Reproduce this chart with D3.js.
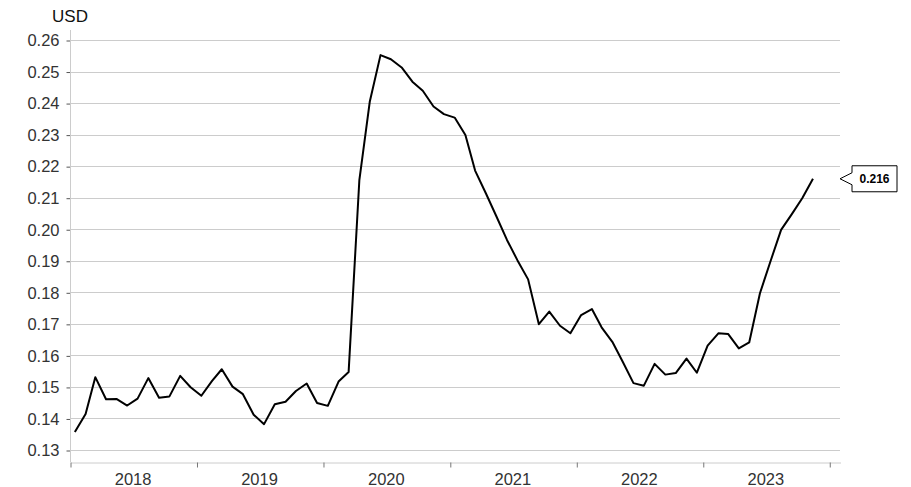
<!DOCTYPE html>
<html>
<head>
<meta charset="utf-8">
<script src="https://cdn.jsdelivr.net/npm/d3@7"></script>
<style>
  html, body { margin: 0; padding: 0; background: #fff; }
  svg { display: block; font-family: "Liberation Sans", Arial, sans-serif; }
</style>
</head>
<body>
<svg id="chart" width="911" height="487"></svg>
<script>
// Monthly average price (USD), January 2018 – November 2023
const years = [2018, 2019, 2020, 2021, 2022, 2023];
const values2018 = [0.1357, 0.1414, 0.1531, 0.1461, 0.1462, 0.1441, 0.1463, 0.1528, 0.1466, 0.1470, 0.1535, 0.1499];
const values2019 = [0.1472, 0.1519, 0.1556, 0.1501, 0.1477, 0.1412, 0.1382, 0.1445, 0.1453, 0.1487, 0.1511, 0.1449];
const values2020 = [0.1440, 0.1517, 0.1547, 0.2156, 0.2404, 0.2552, 0.2539, 0.2513, 0.2468, 0.2439, 0.2389, 0.2365];
const values2021 = [0.2354, 0.2299, 0.2186, 0.2114, 0.2042, 0.1966, 0.1902, 0.1841, 0.1699, 0.1739, 0.1694, 0.1670];
const values2022 = [0.1728, 0.1747, 0.1689, 0.1643, 0.1580, 0.1512, 0.1504, 0.1573, 0.1539, 0.1544, 0.1590, 0.1545];
const values2023 = [0.1631, 0.1670, 0.1668, 0.1622, 0.1641, 0.1797, 0.1897, 0.1998, 0.2048, 0.2098, 0.216];
const yTicks = [0.13, 0.14, 0.15, 0.16, 0.17, 0.18, 0.19, 0.20, 0.21, 0.22, 0.23, 0.24, 0.25, 0.26];
const unitLabel = "USD";
const lastValueLabel = "0.216";

const series = [values2018, values2019, values2020, values2021, values2022, values2023];
const data = [];
series.forEach((vals, i) => {
  vals.forEach((v, m) => data.push({ date: new Date(years[i], m, 15), value: v }));
});

const svg = d3.select("#chart");
const plotLeft = 70, plotRight = 840, plotTop = 40, plotBottom = 450;
const axisY = 462;

const x = d3.scaleTime()
  .domain([new Date(2018, 0, 1), new Date(2024, 1, 1)])
  .range([plotLeft, plotRight]);
const y = d3.scaleLinear()
  .domain([0.13, 0.26])
  .range([plotBottom, plotTop]);

// Horizontal gridlines
svg.append("g")
  .selectAll("line")
  .data(yTicks)
  .join("line")
  .attr("x1", plotLeft).attr("x2", plotRight)
  .attr("y1", d => Math.round(y(d)) + 0.5).attr("y2", d => Math.round(y(d)) + 0.5)
  .attr("stroke", "#cccccc").attr("stroke-width", 1);

// Y axis
const yAxis = svg.append("g")
  .attr("transform", `translate(${plotLeft + 0.5},0.5)`)
  .call(d3.axisLeft(y).tickValues(yTicks).tickFormat(d3.format(".2f")).tickSize(4).tickPadding(7));
yAxis.select(".domain").remove();
yAxis.selectAll(".tick line").attr("stroke", "#555");
yAxis.selectAll(".tick text")
  .attr("fill", "#333").attr("font-size", 16.5)
  .attr("font-family", "Liberation Sans, Arial, sans-serif");
svg.append("line")
  .attr("x1", plotLeft + 0.5).attr("x2", plotLeft + 0.5)
  .attr("y1", 30).attr("y2", axisY)
  .attr("stroke", "#cccccc");

// Unit label
svg.append("text")
  .attr("x", plotLeft).attr("y", 22)
  .attr("text-anchor", "middle")
  .attr("font-size", 17).attr("fill", "#111")
  .text(unitLabel);

// X axis: year boundaries as ticks, year names centred between them
const yearStarts = years.map(yr => new Date(yr, 0, 1)).concat([new Date(2024, 0, 1)]);
const xAxis = svg.append("g")
  .attr("transform", `translate(0.5,${axisY + 0.5})`)
  .call(d3.axisBottom(x).tickValues(yearStarts).tickFormat("").tickSize(5).tickSizeOuter(0));
xAxis.select(".domain").attr("stroke", "#cccccc");
xAxis.selectAll(".tick line").attr("stroke", "#777");

svg.append("g")
  .selectAll("text")
  .data(years)
  .join("text")
  .attr("x", d => x(new Date(d, 6, 2)))
  .attr("y", 485)
  .attr("text-anchor", "middle")
  .attr("font-size", 16.5).attr("fill", "#333")
  .text(d => d);

// Price line
const line = d3.line()
  .x(d => x(d.date))
  .y(d => y(d.value));
svg.append("path")
  .datum(data)
  .attr("fill", "none")
  .attr("stroke", "#000")
  .attr("stroke-width", 2)
  .attr("stroke-linejoin", "round")
  .attr("d", line);

// Last value callout
const last = data[data.length - 1];
const ly = y(last.value);
const bx0 = 852, bx1 = 897, bh = 13, tip = 840, notch = 6;
const callout = d3.path();
callout.moveTo(bx0, ly - bh);
callout.lineTo(bx1, ly - bh);
callout.lineTo(bx1, ly + bh);
callout.lineTo(bx0, ly + bh);
callout.lineTo(bx0, ly + notch);
callout.lineTo(tip, ly);
callout.lineTo(bx0, ly - notch);
callout.closePath();
svg.append("path")
  .attr("d", callout.toString())
  .attr("fill", "#fff")
  .attr("stroke", "#000")
  .attr("stroke-width", 1);
svg.append("text")
  .attr("x", (bx0 + bx1) / 2).attr("y", ly + 4.5)
  .attr("text-anchor", "middle")
  .attr("font-size", 12).attr("font-weight", "bold").attr("fill", "#000")
  .text(lastValueLabel);
</script>
</body>
</html>
